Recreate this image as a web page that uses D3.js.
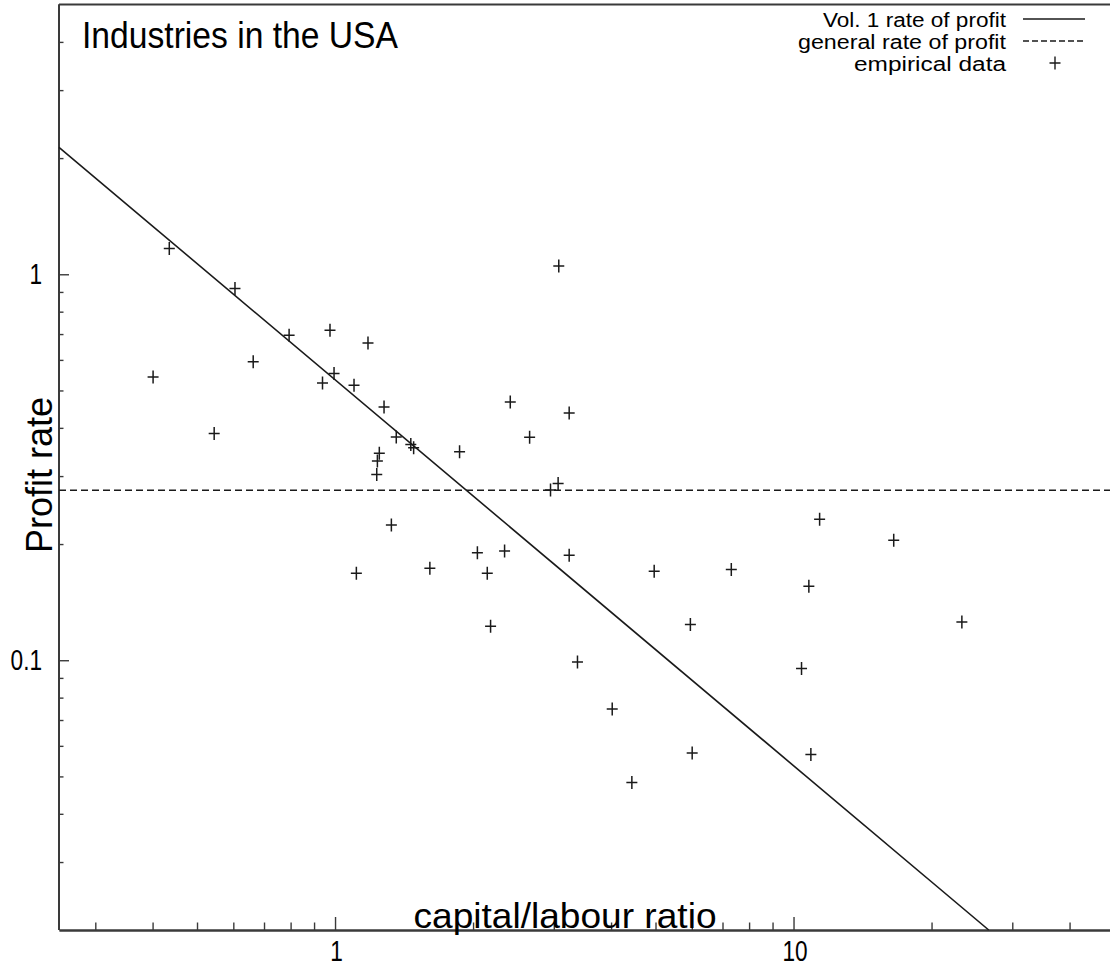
<!DOCTYPE html>
<html>
<head>
<meta charset="utf-8">
<script src="https://cdn.jsdelivr.net/npm/d3@7"></script>
<style>
  html, body { margin: 0; padding: 0; background: #fff; overflow: hidden; }
  svg { display: block; }
  text { font-family: "Liberation Sans", Arial, Helvetica, sans-serif; fill: #000; }
</style>
</head>
<body>
<svg id="chart" width="1110" height="972"></svg>
<script>
// ---- data ----
const capitalLabour = [0.435, 0.401, 0.605, 0.545, 0.663, 0.794, 0.975, 1.180, 0.939, 0.995,
  1.100, 1.279, 1.360, 1.463, 1.484, 1.249, 1.237, 1.233, 1.869, 1.327,
  1.113, 1.610, 2.044, 2.148, 2.343, 2.184, 3.076, 2.411, 3.241, 2.657,
  3.066, 2.951, 3.241, 3.379, 4.023, 4.440, 4.967, 5.957, 6.011, 7.316,
  10.41, 10.80, 10.91, 11.40, 16.54, 23.29];
const profitRate = [1.166, 0.542, 0.918, 0.387, 0.593, 0.695, 0.716, 0.664, 0.523, 0.553,
  0.516, 0.453, 0.379, 0.362, 0.355, 0.344, 0.328, 0.303, 0.347, 0.224,
  0.168, 0.173, 0.190, 0.168, 0.192, 0.1225, 1.051, 0.467, 0.437, 0.378,
  0.287, 0.276, 0.187, 0.099, 0.0748, 0.0482, 0.170, 0.1238, 0.0575, 0.1718,
  0.0952, 0.1555, 0.0570, 0.2318, 0.2046, 0.1257];
const vol1LineX = [0.25, 26.65];
const vol1LineY = [2.132, 0.02];
const generalRate = 0.2757;
const xMajorTicks = [1, 10];
const xMinorTicks = [0.3, 0.4, 0.5, 0.6, 0.7, 0.8, 0.9, 2, 3, 4, 5, 6, 7, 8, 9, 20, 30, 40];
const yMajorTicks = [0.1, 1];
const yMinorTicks = [0.03, 0.04, 0.05, 0.06, 0.07, 0.08, 0.09, 0.2, 0.3, 0.4, 0.5, 0.6, 0.7, 0.8, 0.9, 2, 3, 4];
const legendLabels = ["Vol. 1 rate of profit", "general rate of profit", "empirical data"];

// ---- layout ----
const svg = d3.select("#chart");
const pL = 59, pR = 1114, pT = 4.5, pB = 930;
const x = d3.scaleLog().domain([0.25, 50]).range([pL, pR]);
const y = d3.scaleLog().domain([0.02, 5]).range([pB, pT]);
const ink = "#1a1a1a";
const axisCol = "#3a3a3a";

// frame (top border)
svg.append("line").attr("x1", pL).attr("x2", pR).attr("y1", pT).attr("y2", pT)
  .attr("stroke", axisCol).attr("stroke-width", 2);

// x axis
const gx = svg.append("g").attr("transform", `translate(0,${pB})`);
gx.call(d3.axisBottom(x).tickValues(xMinorTicks).tickSize(-7.5).tickSizeOuter(0).tickFormat(""));
const gxM = svg.append("g").attr("transform", `translate(0,${pB})`);
gxM.call(d3.axisBottom(x).tickValues(xMajorTicks).tickSize(-13).tickSizeOuter(0)
  .tickPadding(10).tickFormat(d3.format("")));
[gx, gxM].forEach(g => {
  g.select(".domain").attr("stroke", axisCol).attr("stroke-width", 2);
  g.selectAll(".tick line").attr("stroke", axisCol).attr("stroke-width", 1.4);
});
gxM.selectAll(".tick text").attr("font-size", 29).attr("fill", "#222")
  .attr("font-family", "Liberation Sans, Arial, sans-serif").attr("dx", 1);

// y axis
const gy = svg.append("g").attr("transform", `translate(${pL},0)`);
gy.call(d3.axisLeft(y).tickValues(yMinorTicks).tickSize(-4.5).tickSizeOuter(0).tickFormat(""));
const gyM = svg.append("g").attr("transform", `translate(${pL},0)`);
gyM.call(d3.axisLeft(y).tickValues(yMajorTicks).tickSize(-10).tickSizeOuter(0)
  .tickPadding(17).tickFormat(d => d >= 1 ? d3.format("d")(d) : d3.format(".1f")(d)));
[gy, gyM].forEach(g => {
  g.select(".domain").attr("stroke", axisCol).attr("stroke-width", 2)
    .attr("d", `M0,${pT}V${pB}`);
  g.selectAll(".tick line").attr("stroke", axisCol).attr("stroke-width", 1.4);
});
gyM.selectAll(".tick text").attr("font-size", 29).attr("fill", "#222")
  .attr("font-family", "Liberation Sans, Arial, sans-serif");

// narrow the tick labels horizontally
svg.selectAll(".tick text").each(function () {
  const w = this.getComputedTextLength();
  if (w > 0) d3.select(this).attr("textLength", w * 0.78).attr("lengthAdjust", "spacingAndGlyphs");
});

// general rate of profit (dashed)
svg.append("line")
  .attr("x1", x(0.25)).attr("x2", x(50))
  .attr("y1", y(generalRate)).attr("y2", y(generalRate))
  .attr("stroke", ink).attr("stroke-width", 1.5).attr("stroke-dasharray", "7,4");

// Vol. 1 rate of profit line
const lineGen = d3.line().x(d => x(d[0])).y(d => y(d[1]));
svg.append("path")
  .datum(vol1LineX.map((v, i) => [v, vol1LineY[i]]))
  .attr("d", lineGen)
  .attr("fill", "none").attr("stroke", ink).attr("stroke-width", 1.6);

// empirical data points (+)
const plus = "M-5.5,0H5.5M0,-6.5V6.5";
svg.append("g").selectAll("path")
  .data(capitalLabour.map((v, i) => [v, profitRate[i]]))
  .join("path")
  .attr("transform", d => `translate(${x(d[0])},${y(d[1])})`)
  .attr("d", plus)
  .attr("stroke", ink).attr("stroke-width", 1.5).attr("fill", "none");

// title
svg.append("text").attr("x", 82).attr("y", 47.5)
  .attr("font-size", 36).attr("textLength", 316).attr("lengthAdjust", "spacingAndGlyphs")
  .text("Industries in the USA");

// y axis label
svg.append("text")
  .attr("transform", "translate(52,475) rotate(-90)")
  .attr("text-anchor", "middle")
  .attr("font-size", 36).attr("textLength", 156).attr("lengthAdjust", "spacingAndGlyphs")
  .text("Profit rate");

// x axis label
svg.append("text").attr("x", 565).attr("y", 928)
  .attr("text-anchor", "middle")
  .attr("font-size", 35).attr("textLength", 303).attr("lengthAdjust", "spacingAndGlyphs")
  .text("capital/labour ratio");

// legend
const legRows = [19, 41, 63];
const legWidths = [183, 208, 152];
const lg = svg.append("g");
legendLabels.forEach((lab, i) => {
  lg.append("text").attr("x", 1006).attr("y", legRows[i] + 7.5)
    .attr("text-anchor", "end").attr("font-size", 19.5)
    .attr("textLength", legWidths[i]).attr("lengthAdjust", "spacingAndGlyphs")
    .attr("fill", "#222")
    .text(lab);
});
lg.append("line").attr("x1", 1023).attr("x2", 1085).attr("y1", legRows[0]).attr("y2", legRows[0])
  .attr("stroke", ink).attr("stroke-width", 1.6);
lg.append("line").attr("x1", 1023).attr("x2", 1085).attr("y1", legRows[1]).attr("y2", legRows[1])
  .attr("stroke", ink).attr("stroke-width", 1.5).attr("stroke-dasharray", "6,3");
lg.append("path").attr("transform", `translate(1055,${legRows[2]})`).attr("d", plus)
  .attr("stroke", ink).attr("stroke-width", 1.4).attr("fill", "none");
</script>
</body>
</html>
